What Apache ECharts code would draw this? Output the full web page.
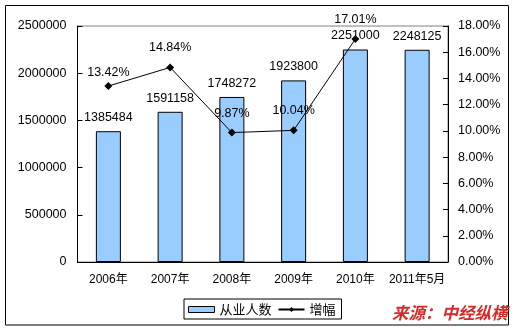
<!DOCTYPE html>
<html><head><meta charset="utf-8">
<script src="https://cdn.jsdelivr.net/npm/echarts@6/dist/echarts.min.js"></script>
<style>html,body{margin:0;padding:0;background:#fff}#c{width:515px;height:330px}</style>
</head><body><div id="c"></div>
<script>
var categories = ['2006年','2007年','2008年','2009年','2010年','2011年5月'];
var employees = [1385484, 1591158, 1748272, 1923800, 2251000, 2248125];
var growth = [13.42, 14.84, 9.87, 10.04, 17.01];
var leftTicks = [0, 500000, 1000000, 1500000, 2000000, 2500000];
var rightTicks = ['0.00%','2.00%','4.00%','6.00%','8.00%','10.00%','12.00%','14.00%','16.00%','18.00%'];
var seriesNames = ['从业人数', '增幅'];
var sourceText = '来源：中经纵横';

var numFont = '"Liberation Sans", Arial, sans-serif';
var cjkFont = '"Liberation Sans", "Noto Sans CJK SC", sans-serif';
var chart = echarts.init(document.getElementById('c'), null, {renderer: 'canvas'});
chart.setOption({
  animation: false,
  backgroundColor: '#fff',
  textStyle: {fontFamily: cjkFont, color: '#000'},
  grid: {left: 77.5, top: 26, width: 370.5, height: 236, show: true, borderColor: '#808080', borderWidth: 1},
  legend: {
    left: 184, top: 299, orient: 'horizontal',
    borderColor: '#000', borderWidth: 1, padding: [4, 6, 3, 4], itemGap: 6,
    itemWidth: 26, itemHeight: 6,
    textStyle: {fontFamily: '"Noto Sans CJK SC", sans-serif', fontSize: 13, color: '#000'},
    data: [
      {name: seriesNames[0], icon: 'rect', itemStyle: {color: '#99CCFF', borderColor: '#000', borderWidth: 1}},
      {name: seriesNames[1]}
    ]
  },
  xAxis: {
    type: 'category', data: categories, boundaryGap: true,
    axisLine: {lineStyle: {color: '#000', width: 1}},
    axisTick: {inside: true, length: 5, lineStyle: {color: '#000'}},
    axisLabel: {interval: 0, fontFamily: cjkFont, fontSize: 12, color: '#000', margin: 12}
  },
  yAxis: [
    {
      type: 'value', min: 0, max: 2500000, interval: 500000,
      axisLine: {show: true, lineStyle: {color: '#000'}},
      axisTick: {show: true, inside: true, length: 5, lineStyle: {color: '#000'}},
      splitLine: {show: false},
      axisLabel: {fontFamily: numFont, fontSize: 12.5, color: '#000', margin: 11,
        formatter: function (v) { return leftTicks.indexOf(v) >= 0 ? String(v) : ''; }}
    },
    {
      type: 'value', min: 0, max: 18, interval: 2, position: 'right',
      axisLine: {show: true, lineStyle: {color: '#000'}},
      axisTick: {show: true, inside: true, length: 5, lineStyle: {color: '#000'}},
      splitLine: {show: false},
      axisLabel: {fontFamily: numFont, fontSize: 12.5, color: '#000', margin: 10,
        formatter: function (v) { return rightTicks[Math.round(v / 2)]; }}
    }
  ],
  series: [
    {
      name: seriesNames[0], type: 'bar', yAxisIndex: 0, data: employees, barWidth: 25,
      itemStyle: {color: '#99CCFF', borderColor: '#000', borderWidth: 1},
      label: {show: true, position: 'top', distance: 7, fontFamily: numFont, fontSize: 12.5, color: '#000'}
    },
    {
      name: seriesNames[1], type: 'line', yAxisIndex: 1,
      data: growth.map(function (v, i) {
        return i === 0 ? {value: v, label: {distance: 3}} : v;
      }),
      symbol: 'diamond', symbolSize: 8,
      lineStyle: {color: '#000', width: 1},
      itemStyle: {color: '#000'},
      label: {show: true, position: 'top', distance: 9, fontFamily: numFont, fontSize: 12.5, color: '#000',
        formatter: function (p) { return p.value.toFixed(2) + '%'; }}
    }
  ],
  graphic: [
    {type: 'rect', shape: {x: 5.5, y: 5.5, width: 503, height: 319.5}, style: {fill: null, stroke: '#000', lineWidth: 1}, z: 100, silent: true},
    {type: 'text', left: 392, top: 304, style: {text: sourceText, fill: '#d42a2a',
      font: 'italic bold 16.5px "Noto Sans CJK SC", sans-serif'}, z: 101}
  ]
});
</script></body></html>
